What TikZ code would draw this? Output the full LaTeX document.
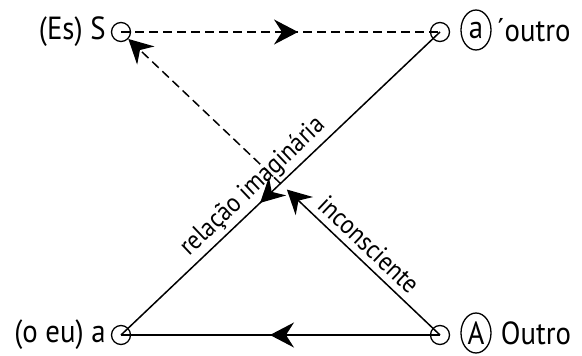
\documentclass[tikz,border=0pt]{standalone}
\usepackage{fontspec}
\setmainfont{PT Sans}[FakeStretch=0.9]
\usetikzlibrary{arrows.meta,decorations.markings,shapes.geometric,calc}
\begin{document}
\begin{tikzpicture}[x=1pt,y=-1pt,
  pnt/.style={circle,draw,line width=1.3pt,minimum size=19pt,inner sep=0pt},
  lbl/.style={font=\fontsize{32}{34}\selectfont,inner sep=0pt},
  elab/.style={font=\fontsize{26.5}{28}\selectfont,inner sep=0pt},
  ring/.style={ellipse,draw,line width=1.3pt,minimum width=30pt,minimum height=40pt,inner sep=0pt},
  ln/.style={line width=1.5pt},
  dsh/.style={ln,dash pattern=on 9pt off 5pt},
  tip/.style={-{Stealth[length=24pt,width=25pt,inset=8pt]}},
  midarrow/.style={postaction={decorate},decoration={markings,mark=at position #1 with {\arrow{Stealth[length=24pt,width=25pt,inset=8pt]}}}}
]
\useasboundingbox (0,0) rectangle (582,356);
\node[pnt] (S) at (121,32) {};
\node[pnt] (ap) at (440,32) {};
\node[pnt] (a) at (121,335) {};
\node[pnt] (A) at (440,335) {};

\node[lbl,anchor=east] (lS) at ([xshift=-5pt]S.west) {(Es) S};
\node[lbl,anchor=east] (la) at ([xshift=-5pt]a.west) {(o eu) a};
\node[lbl,ring] (eap) at (476,30) {a};
\node[lbl,anchor=west] (lap) at ([xshift=5pt]eap.east) {´outro};
\node[lbl,ring] (eA) at (476,333) {A};
\node[lbl,anchor=west] (lA) at ([xshift=9pt]eA.east) {Outro};

\coordinate (X) at ($(A.center)!0.5!(S.center)$);
\coordinate (Xa) at ($(A.center)!0.48!(S.center)$);

\draw[dsh,midarrow=0.555] (S.center) -- (ap.center);
\draw[ln,midarrow=0.564] (ap.center) -- (a.center);
\draw[ln,midarrow=0.533] (A.center) -- (a.center);
\draw[ln,tip] (A.center) -- (Xa);
\draw[dsh,tip] (X) -- (S);

\path (a.center) -- (ap.center) node[elab,pos=0.449,sloped,above=4pt] (tr) {relação imaginária};
\path (S.center) -- (A.center) node[elab,pos=0.741,sloped,above=7pt] (ti) {inconsciente};
\end{tikzpicture}
\end{document}
